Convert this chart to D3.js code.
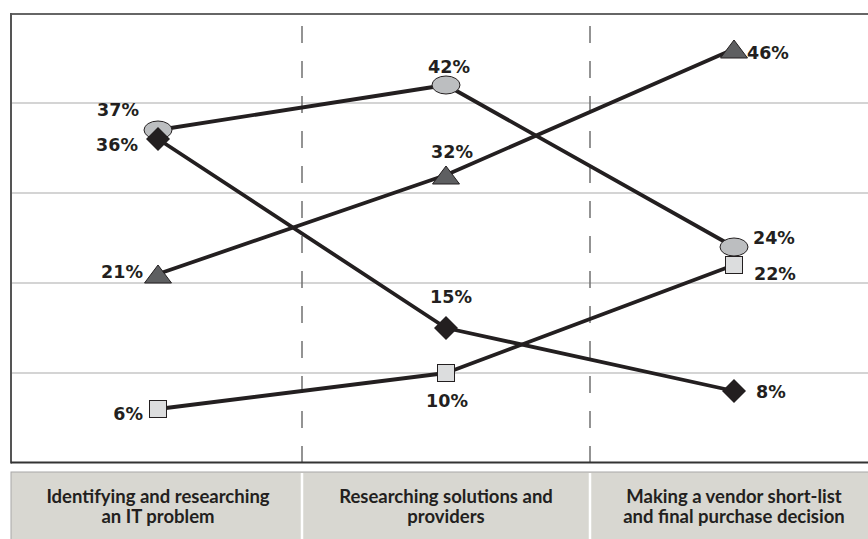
<!DOCTYPE html>
<html>
<head>
<meta charset="utf-8">
<script src="https://cdn.jsdelivr.net/npm/d3@7"></script>
<style>
  html, body { margin: 0; padding: 0; background: #fff; }
  svg { display: block; }
</style>
</head>
<body>
<div id="chart"></div>
<script>
// ---- Data ----
const categories = [
  "Identifying and researching an IT problem",
  "Researching solutions and providers",
  "Making a vendor short-list and final purchase decision"
];
const categoryLines = [
  ["Identifying and researching", "an IT problem"],
  ["Researching solutions and", "providers"],
  ["Making a vendor short-list", "and final purchase decision"]
];
const ellipseValues  = [37, 42, 24];
const diamondValues  = [36, 15, 8];
const triangleValues = [21, 32, 46];
const squareValues   = [6, 10, 22];
const gridTicks = [10, 20, 30, 40];

// ---- Label placement (layout only): [dx, dy, anchor] ----
const ellipseLabelPos  = [[-19, -14, "end"], [3, -12, "middle"], [19, -3, "start"]];
const diamondLabelPos  = [[-20, 12, "end"], [5, -25, "middle"], [22, 7, "start"]];
const triangleLabelPos = [[-15, 4, "end"], [6, -17, "middle"], [13, 10, "start"]];
const squareLabelPos   = [[-15, 11, "end"], [1, 34, "middle"], [20, 15, "start"]];

const W = 868, H = 539;
const ink = "#231f20";

const svg = d3.select("#chart").append("svg")
  .attr("width", W).attr("height", H);

const x = d3.scalePoint().domain(categories).range([158, 734]);
const y = d3.scaleLinear().domain([0, 50]).range([463, 13]);

const plotLeft = 11, plotTop = 14, plotBottom = 462.5;

// gridlines
svg.append("g").selectAll("line").data(gridTicks).join("line")
  .attr("x1", plotLeft + 1).attr("x2", W)
  .attr("y1", d => y(d)).attr("y2", d => y(d))
  .attr("stroke", "#c6c6c6").attr("stroke-width", 1.5);

// dashed separators
const seps = [ (x(categories[0]) + x(categories[1])) / 2, (x(categories[1]) + x(categories[2])) / 2 ];
svg.append("g").selectAll("line").data(seps).join("line")
  .attr("x1", d => d).attr("x2", d => d)
  .attr("y1", 26).attr("y2", plotBottom)
  .attr("stroke", "#707070").attr("stroke-width", 1.5)
  .attr("stroke-dasharray", "17 18");

// frame
svg.append("line").attr("x1", plotLeft).attr("x2", W).attr("y1", plotTop).attr("y2", plotTop)
  .attr("stroke", "#666").attr("stroke-width", 2);
svg.append("line").attr("x1", plotLeft).attr("x2", plotLeft).attr("y1", plotTop - 1).attr("y2", plotBottom + 1)
  .attr("stroke", "#555").attr("stroke-width", 2);
svg.append("line").attr("x1", plotLeft).attr("x2", W).attr("y1", plotBottom).attr("y2", plotBottom)
  .attr("stroke", "#333").attr("stroke-width", 2);

// category box
svg.append("rect").attr("x", plotLeft).attr("y", 472).attr("width", W - plotLeft + 2).attr("height", H - 472 + 2)
  .attr("fill", "#d8d7d1").attr("stroke", "#a8a8a8").attr("stroke-width", 1);
svg.append("g").selectAll("line").data(seps).join("line")
  .attr("x1", d => d).attr("x2", d => d).attr("y1", 473).attr("y2", H)
  .attr("stroke", "#fff").attr("stroke-width", 2.5);

const catG = svg.append("g");
categories.forEach((c, i) => {
  const t = catG.append("text")
    .attr("x", x(c)).attr("text-anchor", "middle")
    .attr("font-family", "Lato, 'Open Sans', sans-serif")
    .attr("font-weight", 700).attr("font-size", 18.5).attr("fill", ink);
  categoryLines[i].forEach((ln, j) => {
    t.append("tspan").attr("x", x(c)).attr("y", 503 + j * 20).text(ln);
  });
});

// series
const series = [
  { key: "ellipse",  values: ellipseValues,  pos: ellipseLabelPos },
  { key: "diamond",  values: diamondValues,  pos: diamondLabelPos },
  { key: "triangle", values: triangleValues, pos: triangleLabelPos },
  { key: "square",   values: squareValues,   pos: squareLabelPos }
];

const line = d3.line().x((d, i) => x(categories[i])).y(d => y(d));

svg.append("g").selectAll("path").data(series).join("path")
  .attr("d", s => line(s.values))
  .attr("fill", "none").attr("stroke", ink).attr("stroke-width", 3.8)
  .attr("stroke-linejoin", "round");

const markG = svg.append("g");
series.forEach(s => {
  s.values.forEach((v, i) => {
    const cx = x(categories[i]), cy = y(v);
    if (s.key === "ellipse") {
      markG.append("ellipse").attr("cx", cx).attr("cy", cy).attr("rx", 14).attr("ry", 9)
        .attr("fill", "#bcbec0").attr("stroke", ink).attr("stroke-width", 1);
    } else if (s.key === "diamond") {
      const r = 12;
      markG.append("path")
        .attr("d", `M${cx},${cy - r}L${cx + r},${cy}L${cx},${cy + r}L${cx - r},${cy}Z`)
        .attr("fill", ink);
    } else if (s.key === "triangle") {
      const hw = 13.5, hh = 9;
      markG.append("path")
        .attr("d", `M${cx},${cy - hh}L${cx + hw},${cy + hh}L${cx - hw},${cy + hh}Z`)
        .attr("fill", "#5e5f61").attr("stroke", ink).attr("stroke-width", 1);
    } else {
      const h = 8.5;
      markG.append("rect").attr("x", cx - h).attr("y", cy - h).attr("width", 2 * h).attr("height", 2 * h)
        .attr("fill", "#dcddde").attr("stroke", ink).attr("stroke-width", 1);
    }
  });
});

const labG = svg.append("g");
series.forEach(s => {
  s.values.forEach((v, i) => {
    const p = s.pos[i];
    labG.append("text")
      .attr("x", x(categories[i]) + p[0]).attr("y", y(v) + p[1])
      .attr("text-anchor", p[2])
      .attr("font-family", "'DejaVu Sans', sans-serif")
      .attr("font-weight", "bold").attr("font-size", 17.5)
      .attr("fill", ink)
      .text(v + "%");
  });
});
</script>
</body>
</html>
